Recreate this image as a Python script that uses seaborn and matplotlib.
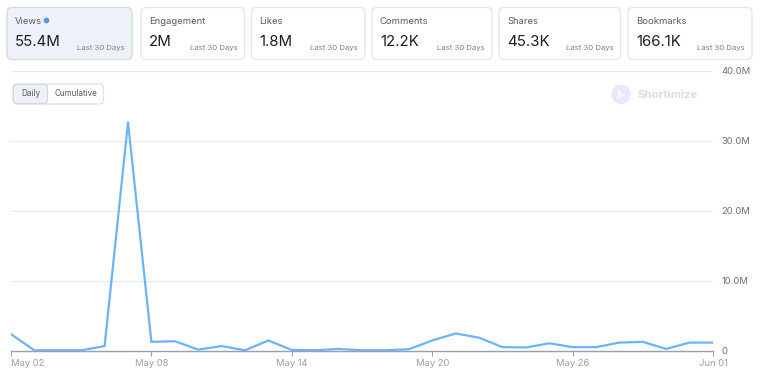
import matplotlib
matplotlib.use("Agg")
import matplotlib.pyplot as plt
from matplotlib.patches import FancyBboxPatch, Circle, Polygon
import seaborn as sns
import pandas as pd

# ---- data ----
dates = ["May 02", "May 03", "May 04", "May 05", "May 06", "May 07", "May 08", "May 09",
         "May 10", "May 11", "May 12", "May 13", "May 14", "May 15", "May 16", "May 17",
         "May 18", "May 19", "May 20", "May 21", "May 22", "May 23", "May 24", "May 25",
         "May 26", "May 27", "May 28", "May 29", "May 30", "May 31", "Jun 01"]
views_m = [2.4, 0.1, 0.1, 0.1, 0.7, 32.6, 1.3, 1.4,
           0.2, 0.7, 0.1, 1.5, 0.15, 0.1, 0.3, 0.1,
           0.1, 0.25, 1.5, 2.5, 1.9, 0.55, 0.5, 1.1,
           0.55, 0.55, 1.2, 1.3, 0.3, 1.2, 1.2]
xtick_labels = ["May 02", "May 08", "May 14", "May 20", "May 26", "Jun 01"]
ytick_values = [0, 10, 20, 30, 40]
ytick_labels = ["0", "10.0M", "20.0M", "30.0M", "40.0M"]

card_titles = ["Views", "Engagement", "Likes", "Comments", "Shares", "Bookmarks"]
card_values = ["55.4M", "2M", "1.8M", "12.2K", "45.3K", "166.1K"]
card_sub = "Last 30 Days"

# ---- style ----
sns.set_theme(style="white")
plt.rcParams["font.family"] = ["Inter", "DejaVu Sans"]

W, H = 772, 380
fig = plt.figure(figsize=(W / 100, H / 100), dpi=100)
fig.patch.set_facecolor("white")

def fx(px):
    return px / W

def fy(py):
    return 1 - py / H

# main chart axes: x 11..713, y 70..351
ax = fig.add_axes([fx(11), fy(351), fx(713) - fx(11), fy(70.5) - fy(351)])
df = pd.DataFrame({"day": range(len(dates)), "views": views_m, "date": dates})
sns.lineplot(data=df, x="day", y="views", ax=ax, color="#6bb3fb", linewidth=1.6)
ax.set_xlim(0, len(dates) - 1)
ax.set_ylim(0, 40)
ax.set_xlabel("")
ax.set_ylabel("")
ax.set_facecolor("none")
for s in ["top", "left", "right"]:
    ax.spines[s].set_visible(False)
ax.spines["bottom"].set_color("#9aa1ae")
ax.spines["bottom"].set_linewidth(1.0)

tick_pos = [dates.index(l) for l in xtick_labels]
ax.set_xticks(tick_pos)
ax.set_xticklabels(xtick_labels)
ax.tick_params(axis="x", bottom=True, length=3.5, width=0.8, color="#9aa1ae",
               labelsize=6.8, labelcolor="#9aa1ae", pad=2.5, direction="out")
ax.get_xticklabels()[0].set_horizontalalignment("left")

ax.yaxis.tick_right()
ax.set_yticks(ytick_values)
ax.set_yticklabels(ytick_labels)
ax.tick_params(axis="y", right=False, left=False, length=0, labelsize=6.8,
               labelcolor="#6b7280", pad=6)
ax.grid(axis="y", color="#e9e9f1", linewidth=0.9)
ax.grid(axis="x", visible=False)
ax.set_axisbelow(True)

# overlay axes for UI elements
ov = fig.add_axes([0, 0, 1, 1])
ov.set_xlim(0, W)
ov.set_ylim(H, 0)
ov.axis("off")
ov.set_facecolor("none")

card_x = [(7, 132), (141, 244.5), (251.5, 365), (372, 492), (499, 620.5), (628, 752)]
card_top, card_bot = 7.5, 59.5
for i, ((x0, x1), t, v) in enumerate(zip(card_x, card_titles, card_values)):
    active = i == 0
    box = FancyBboxPatch((x0, card_top), x1 - x0, card_bot - card_top,
                         boxstyle="round,pad=0,rounding_size=5",
                         facecolor="#eef2f8" if active else "white",
                         edgecolor="#d2d9e4" if active else "#e3e5eb",
                         linewidth=0.9)
    ov.add_patch(box)
    ov.text(x0 + 8, 21, t, fontsize=6.8, color="#555b66", va="center", ha="left")
    ov.text(x0 + 8, 41.5, v, fontsize=10.8, color="#1b1d21", va="center", ha="left")
    ov.text(x1 - 7, 48, card_sub, fontsize=5.6, color="#7b808a", va="center", ha="right")
    if active:
        ov.add_patch(Circle((46.5, 20.5), 2.2, color="#4c9df5"))

# Daily / Cumulative toggle
tog = FancyBboxPatch((13, 84), 103.5 - 13, 20, boxstyle="round,pad=0,rounding_size=4",
                     facecolor="white", edgecolor="#dfe2e8", linewidth=0.9)
ov.add_patch(tog)
daily = FancyBboxPatch((13.5, 84.5), 47.5 - 13.5, 19, boxstyle="round,pad=0,rounding_size=3.5",
                       facecolor="#eef2f8", edgecolor="#d2d9e4", linewidth=0.9)
ov.add_patch(daily)
ov.text(30.5, 93.5, "Daily", fontsize=5.8, color="#555b66", ha="center", va="center")
ov.text(75.5, 93.5, "Cumulative", fontsize=5.8, color="#555b66", ha="center", va="center")

# watermark
ov.add_patch(Circle((621, 94.5), 9, color="#ebe6fa"))
ov.add_patch(Polygon([(617.5, 89.5), (617.5, 99.5), (626, 94.5)], closed=True,
                     facecolor="#f7f5fd", edgecolor="none"))
ov.text(637, 95, "Shortimize", fontsize=8.2, color="#dcdce4", ha="left", va="center",
        fontweight="bold")

fig.savefig("out.png", dpi=100, facecolor="white")
